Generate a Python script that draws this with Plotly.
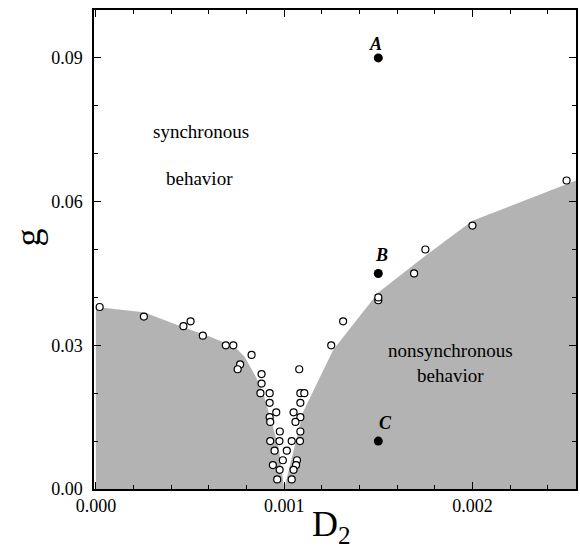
import plotly.graph_objects as go

# Boundary of the nonsynchronous (gray) region
boundary_D = [0.0, 0.0, 0.000255, 0.00046, 0.0006, 0.00074, 0.00079, 0.00085, 0.00089, 0.00093, 0.00097, 0.001,
              0.0011, 0.00126, 0.0015, 0.00174, 0.002, 0.00255, 0.00255]
boundary_g = [0.0, 0.038, 0.0369, 0.0338, 0.0319, 0.0296, 0.0276, 0.0234, 0.0199, 0.0144, 0.0088, 0.0,
              0.016, 0.029, 0.041, 0.0484, 0.056, 0.0644, 0.0]

# Open circles (numerical transition points)
open_D = [0.00002, 0.000255, 0.000465, 0.000503, 0.000568, 0.00069, 0.00073, 0.000827, 0.000766, 0.000753,
          0.00088, 0.00088, 0.000874, 0.000923, 0.000923, 0.000958, 0.000923, 0.000926, 0.000977, 0.000926,
          0.000975, 0.000949, 0.001014, 0.000993, 0.00094, 0.000976, 0.000963,
          0.00108, 0.001086, 0.001107, 0.001086, 0.00105, 0.001086, 0.00106, 0.001086, 0.00104, 0.001084,
          0.001068, 0.001063, 0.00105, 0.00104,
          0.00125, 0.001313, 0.0015, 0.0015, 0.00169, 0.00175, 0.002, 0.0025]
open_g = [0.038, 0.036, 0.034, 0.035, 0.032, 0.030, 0.030, 0.028, 0.026, 0.025,
          0.024, 0.022, 0.020, 0.020, 0.018, 0.016, 0.015, 0.014, 0.012, 0.010,
          0.010, 0.008, 0.008, 0.006, 0.005, 0.004, 0.002,
          0.025, 0.020, 0.020, 0.018, 0.016, 0.015, 0.014, 0.012, 0.010, 0.010,
          0.006, 0.005, 0.004, 0.002,
          0.030, 0.035, 0.0394, 0.040, 0.045, 0.050, 0.055, 0.0644]

# Labelled points A, B, C
point_names = ["A", "B", "C"]
point_D = [0.0015, 0.0015, 0.0015]
point_g = [0.090, 0.045, 0.010]

FONT = "Liberation Serif, Times New Roman, serif"

fig = go.Figure()
fig.add_trace(go.Scatter(x=boundary_D, y=boundary_g, mode="lines", fill="toself",
                         fillcolor="#b3b3b3", line=dict(width=0), hoverinfo="skip"))
fig.add_trace(go.Scatter(x=open_D, y=open_g, mode="markers",
                         marker=dict(size=7, color="white", line=dict(color="black", width=1.2))))
fig.add_trace(go.Scatter(x=point_D, y=point_g, mode="markers",
                         marker=dict(size=9, color="black")))

shifts = {"A": (-3, 14), "B": (3, 18), "C": (7, 18)}
for n, d, g in zip(point_names, point_D, point_g):
    sx, sy = shifts[n]
    fig.add_annotation(x=d, y=g, text=f"<b><i>{n}</i></b>", showarrow=False,
                       xshift=sx, yshift=sy, font=dict(family=FONT, size=18, color="black"))

fig.add_annotation(x=0.000557, y=0.0746, text="synchronous", showarrow=False,
                   font=dict(family=FONT, size=19, color="black"))
fig.add_annotation(x=0.00055, y=0.0649, text="behavior", showarrow=False,
                   font=dict(family=FONT, size=19, color="black"))
fig.add_annotation(x=0.001886, y=0.0263, text="nonsynchronous<br>behavior", showarrow=False,
                   font=dict(family=FONT, size=19, color="black"))

# axis titles
fig.add_annotation(xref="paper", yref="paper", x=-0.136, y=0.526, text="g", textangle=-90,
                   xanchor="center", yanchor="middle",
                   showarrow=False, font=dict(family=FONT, size=36, color="black"))
fig.add_annotation(xref="paper", yref="paper", x=0.493, y=-0.079, text="D<sub>2</sub>",
                   xanchor="center", yanchor="middle",
                   showarrow=False, font=dict(family=FONT, size=36, color="black"))

axis_common = dict(showgrid=False, zeroline=False, showline=True, linecolor="black", linewidth=1.5,
                   mirror="allticks", ticks="inside", ticklen=7, tickwidth=1.2, tickcolor="black",
                   tickfont=dict(family=FONT, size=18, color="black"))
fig.update_xaxes(range=[-0.00001, 0.00255], dtick=0.001, tick0=0, tickformat=".3f",
                 minor=dict(ticks="inside", ticklen=4, dtick=0.0002, tick0=0, tickcolor="black"),
                 **axis_common)
fig.update_yaxes(range=[0, 0.1], dtick=0.03, tick0=0, tickformat=".2f", ticklabelstandoff=6,
                 minor=dict(ticks="inside", ticklen=4, dtick=0.01, tick0=0, tickcolor="black"),
                 **axis_common)

fig.update_layout(width=580, height=550, margin=dict(l=94, r=2, t=10, b=61),
                  plot_bgcolor="white", paper_bgcolor="white", showlegend=False,
                  font=dict(family=FONT, color="black"))

fig.write_html("out.html", config={"displayModeBar": False},
               post_script="document.body.style.margin='0';document.body.style.overflow='hidden';")
